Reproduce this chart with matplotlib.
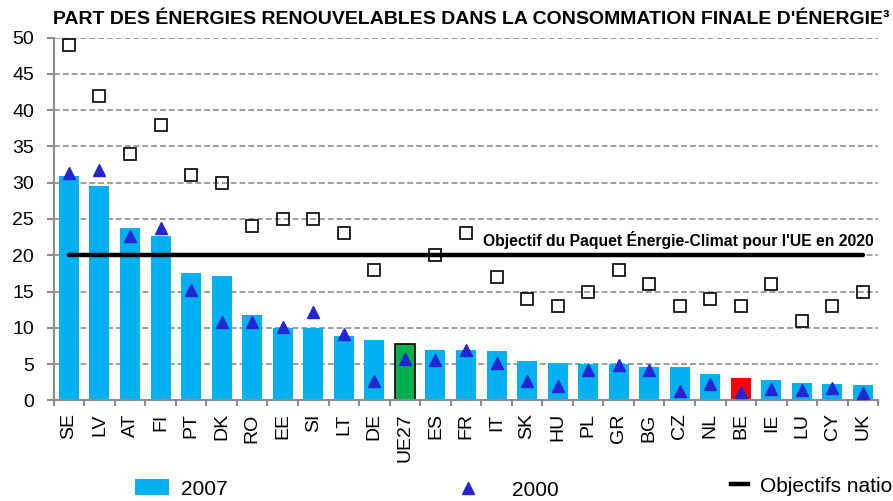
import matplotlib
matplotlib.use('Agg')
import matplotlib.pyplot as plt
from matplotlib.patches import Patch
from matplotlib.lines import Line2D
import numpy as np

plt.rcParams['font.family'] = ['Liberation Sans', 'DejaVu Sans']

countries = ['SE', 'LV', 'AT', 'FI', 'PT', 'DK', 'RO', 'EE', 'SI', 'LT', 'DE', 'UE27', 'ES',
             'FR', 'IT', 'SK', 'HU', 'PL', 'GR', 'BG', 'CZ', 'NL', 'BE', 'IE', 'LU', 'CY', 'UK']
share_2007 = [30.9, 29.6, 23.7, 22.6, 17.5, 17.2, 11.8, 10.0, 10.0, 8.9, 8.3, 7.8, 7.0,
              6.9, 6.8, 5.4, 5.2, 5.0, 5.0, 4.6, 4.6, 3.6, 3.1, 2.8, 2.4, 2.3, 2.1]
share_2000 = [31.3, 31.8, 22.7, 23.8, 15.2, 10.8, 10.8, 10.1, 12.2, 9.1, 2.6, 5.7, 5.6,
              6.9, 5.1, 2.7, 2.0, 4.2, 4.9, 4.2, 1.3, 2.3, 1.2, 1.5, 1.4, 1.7, 1.0]
national_target = [49, 42, 34, 38, 31, 30, 24, 25, 25, 23, 18, np.nan, 20,
                   23, 17, 14, 13, 15, 18, 16, 13, 14, 13, 16, 11, 13, 15]
eu_target = 20

x = np.arange(len(countries))
bar_colors = ['#00B050' if c == 'UE27' else '#FF0000' if c == 'BE' else '#00B0F0' for c in countries]
edge_colors = ['black' if c == 'UE27' else 'none' for c in countries]

fig = plt.figure(figsize=(8.93, 5.01), dpi=100)
ax = fig.add_axes([0.0601, 0.201, 0.9234, 0.7238])

ax.bar(x, share_2007, width=0.655, color=bar_colors, edgecolor=edge_colors, linewidth=1.2, zorder=2)
ax.hlines(eu_target, x[0], x[-1], color='black', linewidth=3.2, zorder=3, capstyle='round')
ax.plot(x, national_target, linestyle='none', marker='s', markersize=9, markerfacecolor='none',
        markeredgecolor='black', markeredgewidth=1.2, zorder=4)
ax.plot(x, share_2000, linestyle='none', marker='^', markersize=8.5, color='#2424D4', zorder=5)

ax.text(13.56, 22.05, "Objectif du Paquet Énergie-Climat pour l'UE en 2020",
        fontsize=11.3, fontweight='bold', ha='left', va='center', zorder=6)

ax.set_xlim(-0.5, len(countries) - 0.5)
ax.set_ylim(0, 50)
ax.set_yticks(np.arange(0, 51, 5))
ax.set_xticks(x)
ax.set_xticklabels(countries, rotation=90, fontsize=14)
ax.set_xticks(np.arange(-0.5, len(countries), 1), minor=True)
ax.tick_params(axis='x', which='major', length=0, pad=9.4)
ax.tick_params(axis='x', which='minor', length=4, width=1.5, color='#8C8C8C')
ax.tick_params(axis='y', length=5, width=1.5, color='#8C8C8C', labelsize=14, pad=9)

ax.yaxis.grid(True, color='#8C8C8C', linestyle=(0, (3.5, 1.8)), linewidth=1.2, zorder=0)
ax.set_axisbelow(True)
for s in ['top', 'right']:
    ax.spines[s].set_visible(False)
for s in ['left', 'bottom']:
    ax.spines[s].set_color('#8C8C8C')
    ax.spines[s].set_linewidth(1.5)

fig.text(52.7 / 893, 1 - 20 / 501, "PART DES ÉNERGIES RENOUVELABLES DANS LA CONSOMMATION FINALE D'ÉNERGIE³",
         fontsize=14, fontweight='bold', ha='left', va='center')

# legend items spread along the bottom like the original
common = dict(loc='center left', frameon=False, fontsize=15, borderpad=0, borderaxespad=0)
fig.legend(handles=[Patch(facecolor='#00B0F0')], labels=['2007'],
           bbox_to_anchor=(135 / 893, 1 - 489 / 501), handlelength=1.63, handleheight=0.77,
           handletextpad=0.58, **common)
fig.legend(handles=[Line2D([], [], linestyle='none', marker='^', markersize=8.5, color='#2424D4')],
           labels=['2000'], bbox_to_anchor=(452 / 893, 1 - 490 / 501), handlelength=1.5,
           handletextpad=1.4, **common)
fig.legend(handles=[Line2D([], [], color='black', linewidth=3.2)], labels=['Objectifs nationaux 2020'],
           bbox_to_anchor=(731 / 893, 1 - 486 / 501), handlelength=0.82,
           handletextpad=0.58, **common)

fig.savefig('out.png', dpi=100)
